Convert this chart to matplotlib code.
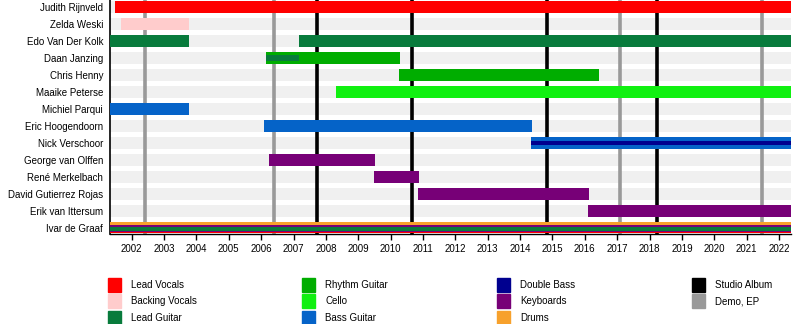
import matplotlib
matplotlib.use('Agg')
import matplotlib.pyplot as plt
from matplotlib.patches import Rectangle

plt.rcParams['font.family'] = ['Liberation Sans', 'DejaVu Sans']

# members, top to bottom
members = ['Judith Rijnveld', 'Zelda Weski', 'Edo Van Der Kolk', 'Daan Janzing',
           'Chris Henny', 'Maaike Peterse', 'Michiel Parqui', 'Eric Hoogendoorn',
           'Nick Verschoor', 'George van Olffen', 'René Merkelbach',
           'David Gutierrez Rojas', 'Erik van Ittersum', 'Ivar de Graaf']

roles = ['Lead Vocals', 'Backing Vocals', 'Lead Guitar', 'Rhythm Guitar', 'Cello',
         'Bass Guitar', 'Double Bass', 'Keyboards', 'Drums', 'Studio Album', 'Demo, EP']
role_colors = ['#ff0000', '#ffcccc', '#087b3c', '#00ad00', '#10f010',
               '#0563c8', '#00008f', '#770077', '#f7a12c', '#000000', '#999999']

START = 2001.33
END = 2022.36

# (member, role, from, to)
spans = [
    ('Judith Rijnveld', 'Lead Vocals', 2001.49, END),
    ('Zelda Weski', 'Backing Vocals', 2001.66, 2003.78),
    ('Edo Van Der Kolk', 'Lead Guitar', START, 2003.78),
    ('Edo Van Der Kolk', 'Lead Guitar', 2007.17, END),
    ('Daan Janzing', 'Rhythm Guitar', 2006.15, 2010.29),
    ('Chris Henny', 'Rhythm Guitar', 2010.26, 2016.44),
    ('Maaike Peterse', 'Cello', 2008.31, END),
    ('Michiel Parqui', 'Bass Guitar', START, 2003.78),
    ('Eric Hoogendoorn', 'Bass Guitar', 2006.09, 2014.37),
    ('Nick Verschoor', 'Bass Guitar', 2014.35, END),
    ('George van Olffen', 'Keyboards', 2006.24, 2009.52),
    ('René Merkelbach', 'Keyboards', 2009.49, 2010.88),
    ('David Gutierrez Rojas', 'Keyboards', 2010.85, 2016.13),
    ('Erik van Ittersum', 'Keyboards', 2016.10, END),
    ('Ivar de Graaf', 'Drums', START, END),
]

# secondary instruments drawn as thin lines inside a bar
thin_spans = [
    ('Daan Janzing', 'Lead Guitar', 2006.15, 2007.17),
    ('Nick Verschoor', 'Double Bass', 2014.35, END),
]

# release lines
studio_albums = [2007.72, 2010.65, 2014.82, 2018.23]
demos_eps = [2002.41, 2006.39, 2017.10, 2021.47]

years = list(range(2002, 2023))

color_of = dict(zip(roles, role_colors))
row_of = {m: i for i, m in enumerate(members)}

fig = plt.figure(figsize=(8, 3.24), dpi=100)
ax = fig.add_axes([0.1375, 0.2787, 0.8508, 0.7213])

bar_h = 0.70
for i in range(len(members)):
    ax.barh(i, END - START, left=START, height=0.68, color='#f0f0f0', zorder=1)

for x in studio_albums:
    ax.axvline(x, color=color_of['Studio Album'], lw=2.6, zorder=2)
for x in demos_eps:
    ax.axvline(x, color=color_of['Demo, EP'], lw=2.6, zorder=2)

for m, r, a, b in spans:
    if m == 'Ivar de Graaf':
        continue
    ax.barh(row_of[m], b - a, left=a, height=bar_h, color=color_of[r], zorder=3)

thin_h = {'Daan Janzing': 0.36, 'Nick Verschoor': 0.2}
for m, r, a, b in thin_spans:
    ax.barh(row_of[m], b - a, left=a, height=thin_h[m], color=color_of[r], zorder=4)

# last row is squeezed against the axis: stacked thin bands
iv = row_of['Ivar de Graaf']
bands = [('Drums', -0.353, -0.159), ('Keyboards', -0.159, -0.06),
         ('Lead Guitar', -0.06, 0.176), ('Keyboards', 0.176, 0.235),
         ('Lead Vocals', 0.235, 0.33)]
for r, t0, t1 in bands:
    ax.barh(iv + (t0 + t1) / 2, END - START, left=START, height=t1 - t0,
            color=color_of[r], zorder=5)

ax.set_xlim(START, END)
ax.set_ylim(iv + 0.353, -0.41)

ax.set_yticks(range(len(members)))
ax.set_yticklabels(members, fontsize=7)
ax.tick_params(axis='y', length=0, pad=5)
ax.set_xticks(years)
ax.set_xticklabels([str(y) for y in years], fontsize=7)
ax.tick_params(axis='x', length=4, width=1, pad=3.5, direction='out')

for s in ['top', 'right']:
    ax.spines[s].set_visible(False)
ax.spines['left'].set_linewidth(1.2)
ax.spines['bottom'].set_linewidth(1.0)

# legend
legend_cols = [108, 302, 497, 692]
legend_rows = [285, 301, 318]
for k, (r, c) in enumerate(zip(roles, role_colors)):
    col = k // 3
    row = k % 3
    x0 = legend_cols[col] / 800
    yc = 1 - legend_rows[row] / 324
    fig.patches.append(Rectangle((x0, yc - 7 / 324), 13 / 800, 14 / 324,
                                 transform=fig.transFigure, color=c))
    fig.text(x0 + 23 / 800, yc, r, fontsize=7, va='center', ha='left')

fig.savefig('out.png', dpi=100)
